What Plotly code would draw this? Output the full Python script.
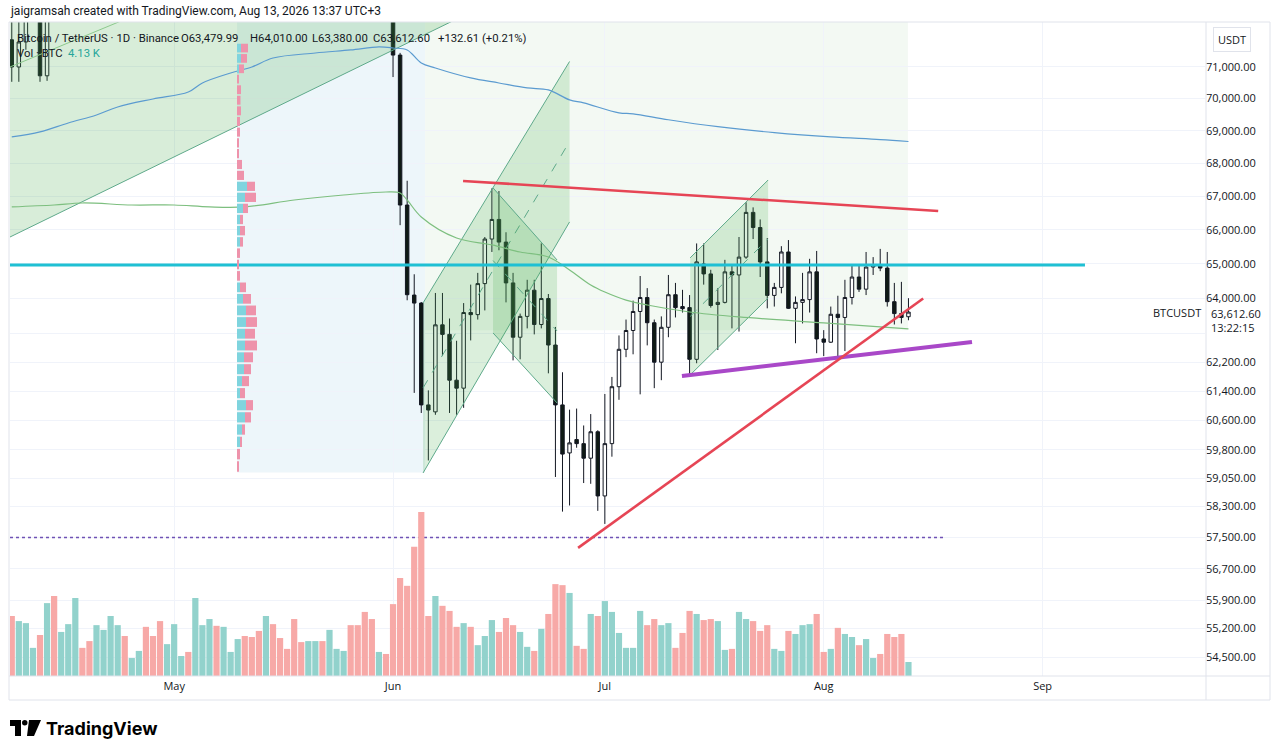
import math
import pandas as pd
import plotly.graph_objects as go

# ---- daily BTCUSDT candles, Apr 8 .. Aug 13 2026 ----
dates = pd.date_range("2026-04-08", "2026-08-13", freq="D")

opens = [
    71870, 71000, 71800, 72900, 73500, 70720, 73600, 73300, 73900, 74400, 75200, 74800, 74300, 74900, 75300, 75900,
    76300, 75800, 76000, 76200, 75600, 75100, 74500,
    74900, 75400, 75600, 75300, 76500, 76900, 77300, 76800, 77100, 77300, 77600, 77100, 76600, 76200, 76900, 76300,
    75900, 75600, 74900, 74500, 74900, 75300, 75000, 75500, 75700, 76000, 75500, 74900, 74100, 73500, 73700,
    72800, 71380, 66740, 64100, 63870, 61020, 60830, 63250, 62980, 61700, 61480, 63600, 63540, 64430, 65730, 66310,
    65640, 64450, 62900, 63490, 64240, 63260, 64000, 62680, 61020, 59720, 60080, 59970, 59580, 60290,
    58580, 59970, 61520, 62560, 63090, 63630, 64030, 63310, 62200, 63180, 64110, 63770, 63740, 62280, 65000, 64710,
    63830, 63890, 64770, 64680, 65200, 66520, 66070, 65060, 64090, 64320, 65350, 63720, 63890, 63970, 64770,
    62850, 62760, 63550, 63460, 64030, 64620, 64270, 64910, 64940, 64880, 63910, 63570, 63479.99,
]
highs = [
    73100, 72600, 73200, 74000, 73800, 73900, 74100, 74300, 74800, 75600, 75500, 75100, 75200, 75700, 76200, 76700,
    76600, 76300, 76500, 76400, 75900, 75400, 75200,
    75800, 75900, 75800, 76800, 77200, 77700, 77500, 77400, 77500, 77900, 77800, 77300, 76900, 77200, 77100, 76600,
    76100, 75800, 75200, 75200, 75600, 75500, 75800, 75900, 76300, 76200, 75700, 75100, 74400, 74000, 73900,
    73100, 71450, 67470, 64700, 63900, 61420, 64160, 64160, 63430, 62800, 63870, 64400, 64740, 65790, 67240, 67160,
    65930, 64740, 63570, 64540, 64540, 65600, 64130, 63190, 61920, 60890, 60920, 60460, 60770, 60330,
    61320, 61790, 62950, 63400, 63940, 64650, 64300, 63400, 63490, 64680, 64450, 64250, 64100, 65600, 65600, 64830,
    64300, 65120, 64940, 65790, 66820, 66670, 66310, 65760, 64450, 65520, 65700, 64060, 64740, 65150, 65380,
    63100, 63770, 64080, 64540, 64940, 64970, 65350, 65200, 65440, 65350, 64450, 64480, 64010,
]
lows = [
    70530, 70530, 71550, 72600, 70530, 70560, 72900, 73000, 73600, 74100, 74500, 73900, 74000, 74600, 75000, 75600,
    75400, 75500, 75700, 75300, 74800, 74100, 74200,
    74600, 75200, 75000, 75100, 76200, 76600, 76500, 76500, 76900, 77000, 76800, 76300, 75900, 76000, 76000, 75600,
    75300, 74600, 74200, 74300, 74700, 74700, 74800, 75300, 75500, 75200, 74600, 73800, 73200, 73300, 72600,
    70680, 66140, 63950, 61350, 60800, 59520, 60750, 62380, 60800, 60750, 60940, 62810, 63400, 63660, 65350, 65400,
    63890, 62250, 62280, 63150, 62980, 63150, 61890, 59080, 58170, 58330, 59860, 58920, 58900, 58190,
    57850, 59620, 61160, 62340, 62420, 61310, 62670, 61480, 61700, 62900, 63460, 63600, 61840, 62170, 64400, 63740,
    62540, 63860, 63150, 63060, 65150, 65730, 64620, 63720, 63770, 64150, 63700, 62730, 63290, 63600, 62450,
    62370, 62740, 62370, 62510, 63830, 64190, 64100, 64680, 64790, 63770, 63260, 63290, 63380,
]
closes = [
    71000, 71800, 72900, 73500, 70720, 73600, 73300, 73900, 74400, 75200, 74800, 74300, 74900, 75300, 75900, 76300,
    75800, 76000, 76200, 75600, 75100, 74500, 74900,
    75400, 75600, 75300, 76500, 76900, 77300, 76800, 77100, 77300, 77600, 77100, 76600, 76200, 76900, 76300, 75900,
    75600, 74900, 74500, 74900, 75300, 75000, 75500, 75700, 76000, 75500, 74900, 74100, 73500, 73700, 72800,
    71380, 66740, 64110, 63870, 61020, 60880, 63250, 62980, 61700, 61480, 63600, 63540, 64430, 65730, 66310, 65640,
    64450, 62900, 63490, 64240, 63260, 64000, 62680, 61020, 59690, 59990, 59970, 59580, 60290, 58580,
    59970, 61520, 62560, 63090, 63630, 64030, 63310, 62200, 63180, 64110, 63740, 63710, 62280, 65060, 64710, 63800,
    63890, 64770, 64680, 65200, 66520, 66070, 65060, 64090, 64320, 65350, 63720, 63890, 63970, 64770, 62850,
    62760, 63550, 63460, 64030, 64620, 64270, 64910, 64970, 64880, 63910, 63570, 63460, 63612.60,
]
# volume in thousands of BTC
volumes_k = [
    17.7, 16.2, 15.6, 8.3, 12.1, 21.5, 23.6, 13.0, 15.3, 23.0, 8.3, 10.3, 15.0, 13.6, 17.7, 15.0, 11.8, 5.3, 7.4,
    14.5, 11.8, 16.2, 9.4,
    15.3, 5.9, 7.1, 23.0, 15.0, 16.8, 14.8, 14.5, 7.1, 10.9, 11.8, 11.5, 13.3, 17.7, 15.3, 11.2, 8.0, 16.8, 10.0,
    10.3, 10.3, 10.3, 13.6, 8.0, 7.4, 15.0, 15.0, 18.9, 16.8, 7.1, 6.5,
    21.2, 28.9, 26.6, 38.1, 48.4, 17.7, 23.6, 20.7, 19.2, 14.5, 15.6, 14.5, 9.1, 11.8, 16.5, 13.0, 17.1, 15.0, 13.0,
    8.6, 7.4, 13.9, 18.3, 27.1, 26.8, 24.5, 8.9, 8.0, 18.3, 17.7,
    22.1, 18.9, 12.7, 8.3, 8.3, 19.2, 15.0, 16.8, 15.0, 15.6, 8.3, 12.7, 19.2, 18.3, 16.5, 16.8, 16.2, 7.7, 8.0,
    18.9, 16.8, 16.2, 13.3, 15.0, 8.0, 7.4, 13.3, 12.4, 15.0, 15.3, 18.3,
    7.1, 8.0, 14.2, 12.4, 11.5, 9.1, 10.9, 5.3, 6.5, 12.4, 11.5, 12.4, 4.13,
]

# ---- indicators ----
ma_blue_dates = ["2026-04-08", "2026-04-12", "2026-04-16", "2026-04-20", "2026-04-23", "2026-04-28", "2026-05-03",
                 "2026-05-05", "2026-05-09", "2026-05-12", "2026-05-15", "2026-05-21", "2026-05-26", "2026-05-30",
                 "2026-06-01", "2026-06-03", "2026-06-05", "2026-06-07", "2026-06-12", "2026-06-16", "2026-06-20",
                 "2026-06-23", "2026-06-26", "2026-06-28", "2026-07-03", "2026-07-05", "2026-07-10", "2026-07-17",
                 "2026-07-25", "2026-08-02", "2026-08-09", "2026-08-13"]
ma_blue = [68808, 68962, 69240, 69489, 69738, 69989, 70209, 70493, 70809, 71000, 71287, 71447, 71544, 71640,
           71607, 71544, 71127, 70968, 70652, 70493, 70336, 70273, 69960, 69867, 69557, 69526, 69341, 69125,
           68941, 68808, 68728, 68667]

ma_green_dates = ["2026-04-08", "2026-04-14", "2026-04-18", "2026-04-25", "2026-05-01", "2026-05-06", "2026-05-11",
                  "2026-05-18", "2026-05-25", "2026-05-31", "2026-06-02", "2026-06-03", "2026-06-05", "2026-06-10",
                  "2026-06-15", "2026-06-19", "2026-06-23", "2026-06-26", "2026-06-29", "2026-07-01", "2026-07-04",
                  "2026-07-07", "2026-07-13", "2026-07-20", "2026-08-01", "2026-08-13"]
ma_green = [66683, 66741, 66801, 66741, 66741, 66683, 66683, 66890, 67040, 67131, 67100, 66890, 66384, 65761,
            65556, 65350, 65204, 64826, 64389, 64186, 63955, 63814, 63616, 63475, 63305, 63135]

# ---- drawings (date, price) ----
big_chan_dates = ["2026-04-07 18:00", "2026-06-11 22:00"]
big_chan_lower = [65790, 72756]
big_chan_mid_dates = ["2026-04-07 18:00", "2026-04-27 09:00"]
big_chan_mid = [71000, 72850]

chan1_dates = ["2026-06-05 06:00", "2026-06-26 00:00"]
chan1_upper = [63873, 71175]
chan1_lower = [59186, 66236]
chan1_mid = [61485, 68668]

chan2_dates = ["2026-06-15 04:00", "2026-06-24 05:30"]
chan2_upper = [67253, 65116]
chan2_lower = [63020, 61073]
chan2_mid = [65100, 63077]

chan3_dates = ["2026-07-13 02:00", "2026-07-24 03:00"]
chan3_upper = [65178, 67493]
chan3_lower = [61845, 64016]
chan3_mid = [63488, 65731]

res_line_dates = ["2026-06-10 22:00", "2026-08-17 05:00"]
res_line = [67464, 66563]
level_dates = ["2026-04-07 18:00", "2026-09-07"]
level_price = [64970, 64970]
support_dates = ["2026-06-27 05:00", "2026-08-15 02:00"]
support_line = [57233, 64000]
purple_dates = ["2026-07-11 22:00", "2026-08-22"]
purple_line = [61818, 62766]
dotted_dates = ["2026-04-07 18:00", "2026-08-18 05:00"]
dotted_price = [57500, 57500]

# shaded zones
blue_zone = dict(x0="2026-05-09 22:00", x1="2026-06-05 13:00", y0=59200, y1=74000)
green_zone = dict(x0="2026-06-05 13:00", x1="2026-08-12 22:00", y0=63100, y1=74000)

# ---- volume profile (rows from the top, 331 USDT each) ----
vp_top = 71770
vp_step = 331
vp_up = [4, 4, 2, 0, 0, 0, 0, 0, 0, 0, 0, 0, 0, 10, 8, 6, 3, 3, 3, 0, 0, 0, 3, 6, 9, 9, 8, 8, 7, 7, 5, 3, 9, 8, 5,
         3, 0, 0]
vp_down = [7, 6, 5, 2, 4, 3.5, 4, 3, 3, 2, 2, 5, 7, 8, 11, 5, 3, 5, 3, 3, 2, 3, 6, 8, 10, 11, 10, 12, 9, 7, 7, 5,
           7, 6, 3, 2, 3, 2]

price_ticks = [54500, 55200, 55900, 56700, 57500, 58300, 59050, 59800, 60600, 61400, 62200, 63000, 64000, 65000,
               66000, 67000, 68000, 69000, 70000, 71000]
# 63,000 sits behind the last-price label
price_labels = ["" if v == 63000 else f"{v:,.2f}" for v in price_ticks]
month_ticks = ["2026-05-01", "2026-06-01", "2026-07-01", "2026-08-01", "2026-09-01"]
month_labels = ["May", "Jun", "Jul", "Aug", "Sep"]

# ---- geometry helpers (pixel -> paper) ----
PL, PR, PT, PB = 10, 1205, 22, 676


def px(v):
    return (v - PL) / (PR - PL)


def py(v):
    return (PB - v) / (PB - PT)


FONT = "Open Sans"
HFONT = "Roboto"
TXT = "#131722"
CH_LINE = "#5ea98a"
CH_FILL = "rgba(76,175,80,0.20)"

fig = go.Figure()

# helper axis for the volume profile
fig.add_trace(go.Scatter(x=[0], y=[60000], mode="markers", opacity=0, xaxis="x2", yaxis="y",
                         hoverinfo="skip"))

vol_colors = ["#92d2cc" if c >= o else "#f7a9a7" for o, c in zip(opens, closes)]
fig.add_trace(go.Bar(x=dates, y=volumes_k, marker_color=vol_colors, marker_line_width=0, yaxis="y2"))

# big ascending channel fill (top-left)
fig.add_trace(go.Scatter(
    x=[big_chan_dates[0], big_chan_dates[1], big_chan_dates[1], big_chan_dates[0]],
    y=[big_chan_lower[0], big_chan_lower[1], 90000, 90000],
    fill="toself", fillcolor="rgba(76,175,80,0.22)", mode="lines", line=dict(width=0), hoverinfo="skip"))
fig.add_trace(go.Scatter(x=big_chan_dates, y=big_chan_lower, mode="lines",
                         line=dict(color=CH_LINE, width=1), hoverinfo="skip"))
fig.add_trace(go.Scatter(x=big_chan_mid_dates, y=big_chan_mid, mode="lines",
                         line=dict(color="#8cc98d", width=1), hoverinfo="skip"))

for cd, up, lo, mid in [(chan1_dates, chan1_upper, chan1_lower, chan1_mid),
                        (chan2_dates, chan2_upper, chan2_lower, chan2_mid),
                        (chan3_dates, chan3_upper, chan3_lower, chan3_mid)]:
    fig.add_trace(go.Scatter(x=[cd[0], cd[1], cd[1], cd[0]], y=[up[0], up[1], lo[1], lo[0]],
                             fill="toself", fillcolor=CH_FILL, mode="lines", line=dict(width=0),
                             hoverinfo="skip"))
    fig.add_trace(go.Scatter(x=cd, y=up, mode="lines", line=dict(color=CH_LINE, width=1), hoverinfo="skip"))
    fig.add_trace(go.Scatter(x=cd, y=lo, mode="lines", line=dict(color=CH_LINE, width=1), hoverinfo="skip"))
    fig.add_trace(go.Scatter(x=cd, y=mid, mode="lines", line=dict(color=CH_LINE, width=1, dash="dash"),
                             hoverinfo="skip"))

# moving averages
fig.add_trace(go.Scatter(x=ma_blue_dates, y=ma_blue, mode="lines", line=dict(color="#5b9bd0", width=1.2),
                         line_shape="spline", hoverinfo="skip"))
fig.add_trace(go.Scatter(x=ma_green_dates, y=ma_green, mode="lines", line=dict(color="#7dbf7f", width=1.2),
                         line_shape="spline", hoverinfo="skip"))

fig.add_trace(go.Candlestick(
    x=dates, open=opens, high=highs, low=lows, close=closes,
    increasing=dict(fillcolor="#ffffff", line=dict(color=TXT, width=1)),
    decreasing=dict(fillcolor="#0f1a14", line=dict(color=TXT, width=1)),
    whiskerwidth=0, hoverinfo="skip"))

# trend lines
fig.add_trace(go.Scatter(x=dotted_dates, y=dotted_price, mode="lines",
                         line=dict(color="#6f52b5", width=1.6, dash="dot"), hoverinfo="skip"))
fig.add_trace(go.Scatter(x=res_line_dates, y=res_line, mode="lines", line=dict(color="#e64555", width=2.6),
                         hoverinfo="skip"))
fig.add_trace(go.Scatter(x=level_dates, y=level_price, mode="lines", line=dict(color="#1fc0d3", width=3),
                         hoverinfo="skip"))
fig.add_trace(go.Scatter(x=purple_dates, y=purple_line, mode="lines", line=dict(color="#a948c8", width=4),
                         hoverinfo="skip"))
fig.add_trace(go.Scatter(x=support_dates, y=support_line, mode="lines", line=dict(color="#e64555", width=2.6),
                         hoverinfo="skip"))

shapes = []
shapes.append(dict(type="rect", xref="x", yref="y", layer="below", line=dict(width=0),
                   fillcolor="#edf6fa", **blue_zone))
shapes.append(dict(type="rect", xref="x", yref="y", layer="below", line=dict(width=0),
                   fillcolor="#f3f9f3", **green_zone))

# volume profile rows
for i, (u, d) in enumerate(zip(vp_up, vp_down)):
    hi = vp_top - i * vp_step - vp_step * 0.08
    lo = vp_top - (i + 1) * vp_step + vp_step * 0.08
    if u > 0:
        shapes.append(dict(type="rect", xref="x2", yref="y", x0=0, x1=u, y0=lo, y1=hi,
                           fillcolor="#7fd4de", line=dict(width=0)))
    if d > 0:
        shapes.append(dict(type="rect", xref="x2", yref="y", x0=u, x1=u + d, y0=lo, y1=hi,
                           fillcolor="#ee93ab", line=dict(width=0)))

# chart frame
FR = "#e0e3eb"
for x0, y0, x1, y1 in [(9, 22, 1270, 22), (9, 22, 9, 700), (9, 676, 1270, 676), (9, 700, 1270, 700),
                       (1206, 22, 1206, 700), (1270, 22, 1270, 700)]:
    shapes.append(dict(type="line", xref="paper", yref="paper", x0=px(x0), y0=py(y0), x1=px(x1), y1=py(y1),
                       line=dict(color=FR, width=1)))

# TradingView logo
shapes.append(dict(type="rect", xref="paper", yref="paper", x0=px(10), x1=px(21), y0=py(720), y1=py(726),
                   fillcolor="#000", line=dict(width=0)))
shapes.append(dict(type="rect", xref="paper", yref="paper", x0=px(15), x1=px(21), y0=py(720), y1=py(736),
                   fillcolor="#000", line=dict(width=0)))
shapes.append(dict(type="circle", xref="paper", yref="paper", x0=px(22), x1=px(27.5), y0=py(720), y1=py(725.5),
                   fillcolor="#000", line=dict(width=0)))
logo_pts = [(29, 720), (41, 720), (34, 736), (27, 736)]
path = "M " + " L ".join(f"{px(a)},{py(b)}" for a, b in logo_pts) + " Z"
shapes.append(dict(type="path", xref="paper", yref="paper", path=path, fillcolor="#000", line=dict(width=0)))

annotations = []


def note(text, x, y, size=11.3, color=TXT, xanchor="left", family=HFONT, **kw):
    annotations.append(dict(text=text, xref="paper", yref="paper", x=px(x), y=py(y), xanchor=xanchor,
                            yanchor="middle", showarrow=False, font=dict(family=family, size=size, color=color),
                            **kw))


note("jaigramsah created with TradingView.com, Aug 13, 2026 13:37 UTC+3", 8, 11, size=12)
note("Bitcoin / TetherUS · 1D · Binance", 15, 38)
note("O63,479.99", 179, 38)
note("H64,010.00", 248, 38)
note("L63,380.00", 310, 38)
note("C63,612.60", 371, 38)
note("+132.61 (+0.21%)", 436, 38)
note("Vol · BTC", 15, 54)
note("4.13 K", 66, 54, color="#26a69a")
note("USDT", 1213, 40, size=11, family=FONT, bordercolor="#e0e3eb", borderwidth=1, borderpad=4)
note("<b>TradingView</b>", 44, 728, size=18, color="#000", family="Inter")

last_close = closes[-1]
annotations.append(dict(text="BTCUSDT", xref="paper", yref="y", x=px(1203), y=math.log10(last_close),
                        xanchor="right", yanchor="middle", showarrow=False,
                        font=dict(family=FONT, size=11, color=TXT)))
annotations.append(dict(text="63,612.60<br>13:22:15", xref="paper", yref="y", x=px(1209),
                        y=math.log10(last_close), xanchor="left", yanchor="top", yshift=8, showarrow=False,
                        align="left", bgcolor="#ffffff", borderpad=1,
                        font=dict(family=FONT, size=11, color=TXT)))

fig.update_layout(
    width=1280, height=756,
    margin=dict(l=PL, r=1280 - PR, t=PT, b=756 - PB),
    paper_bgcolor="#ffffff", plot_bgcolor="#ffffff",
    showlegend=False, bargap=0.12,
    shapes=shapes, annotations=annotations,
    xaxis=dict(type="date", range=["2026-04-07 18:00", "2026-09-24"], rangeslider=dict(visible=False),
               tickvals=month_ticks, ticktext=month_labels, showgrid=True, gridcolor="#f0f3fa",
               zeroline=False, showline=False, ticks="", ticklabelstandoff=2,
               tickfont=dict(family=FONT, size=11, color=TXT)),
    xaxis2=dict(overlaying="x", range=[PL - 237, PR - 237], visible=False),
    yaxis=dict(type="log", range=[math.log10(54038), math.log10(72446)], side="right",
               tickvals=price_ticks, ticktext=price_labels,
               showgrid=True, gridcolor="#f0f3fa", zeroline=False, showline=False, ticks="",
               ticklabelstandoff=0, automargin=False,
               tickfont=dict(family=FONT, size=11, color=TXT)),
    yaxis2=dict(overlaying="y", anchor="x", range=[0, 192.9], visible=False),
)

# the page is exactly the chart size, so drop the default body margin
fig.write_html("out.html", config={"displayModeBar": False},
               post_script="document.body.style.margin='0';")
